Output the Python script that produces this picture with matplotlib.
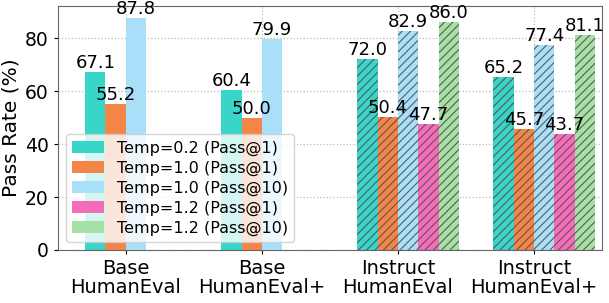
import numpy as np
import matplotlib.pyplot as plt
from matplotlib.patches import Patch

# --- dados ---
groups = ["Base\nHumanEval", "Base\nHumanEval+", "Instruct\nHumanEval", "Instruct\nHumanEval+"]
series = ["Temp=0.2 (Pass@1)", "Temp=1.0 (Pass@1)", "Temp=1.0 (Pass@10)",
          "Temp=1.2 (Pass@1)", "Temp=1.2 (Pass@10)"]
# None = sem barra (modelos Base nao tem Temp=1.2)
temp02_p1 = [67.1, 60.4, 72.0, 65.2]
temp10_p1 = [55.2, 50.0, 50.4, 45.7]
temp10_p10 = [87.8, 79.9, 82.9, 77.4]
temp12_p1 = [None, None, 47.7, 43.7]
temp12_p10 = [None, None, 86.0, 81.1]
values = [temp02_p1, temp10_p1, temp10_p10, temp12_p1, temp12_p10]
instruct = [False, False, True, True]

colors = ["#2ed3c6", "#f47f3e", "#a6defa", "#f565b5", "#a3e0a0"]
alpha = 0.95
width = 0.15

plt.rcParams["hatch.linewidth"] = 0.8
fig, ax = plt.subplots(figsize=(6.09, 3.03), dpi=100)
fig.subplots_adjust(left=0.095, right=0.9885, bottom=0.175, top=0.98)

x = np.arange(len(groups))
for i, (vals, col) in enumerate(zip(values, colors)):
    for g in range(len(groups)):
        v = vals[g]
        if v is None:
            continue
        xpos = x[g] + (i - 1.5) * width
        ax.bar(xpos, v, width, color=col, alpha=alpha,
               hatch="////" if instruct[g] else None,
               edgecolor="#555555" if instruct[g] else col, linewidth=0)
        ax.text(xpos, v, f"{v:.1f}", ha="center", va="bottom", fontsize=13)

ax.set_xticks(x)
ax.set_xticklabels(groups, fontsize=14, linespacing=1.0)
ax.tick_params(axis="y", labelsize=13.5, length=3)
ax.tick_params(axis="x", length=3)
ax.set_ylabel("Pass Rate (%)", fontsize=14.5, labelpad=3)
ax.set_xlim(-0.5, 3.5)
ax.set_ylim(0, 87.8 * 1.05)
ax.set_yticks([0, 20, 40, 60, 80])
ax.grid(True, linestyle=":", color="#bbbbbb", linewidth=0.9)
ax.set_axisbelow(True)
for s in ax.spines.values():
    s.set_color("#666666")

handles = [Patch(facecolor=c, alpha=alpha, label=l) for c, l in zip(colors, series)]
ax.legend(handles=handles, loc="lower left", fontsize=11.5, labelspacing=0.3,
          handleheight=0.8)

plt.savefig("out.png")
